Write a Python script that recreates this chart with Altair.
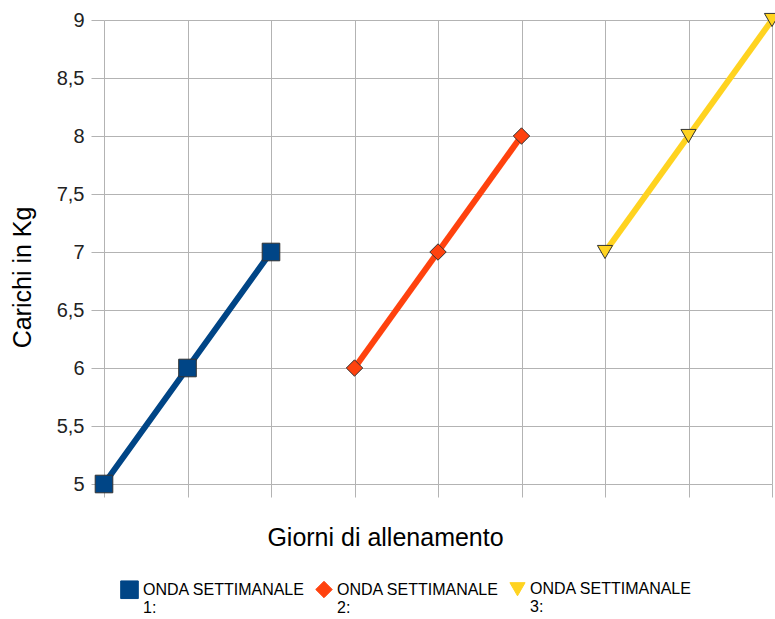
import altair as alt
import pandas as pd

series = ["ONDA SETTIMANALE 1:", "ONDA SETTIMANALE 2:", "ONDA SETTIMANALE 3:"]
days_1 = [0, 1, 2]
days_2 = [3, 4, 5]
days_3 = [6, 7, 8]
loads_1 = [5, 6, 7]
loads_2 = [6, 7, 8]
loads_3 = [7, 8, 9]
colors = ["#004586", "#ff420e", "#ffd320"]
shapes = ["square", "diamond", "triangle-down"]

rows = []
for s, d, v in zip(series, [days_1, days_2, days_3], [loads_1, loads_2, loads_3]):
    for x, y in zip(d, v):
        rows.append({"serie": s, "giorno": x, "carico": y})
df = pd.DataFrame(rows)

FONT = "Liberation Sans"

x_enc = alt.X("giorno:Q", scale=alt.Scale(domain=[0, 8], nice=False, zero=False),
              axis=alt.Axis(title="Giorni di allenamento", values=list(range(9)), labels=False,
                            tickSize=13, tickColor="#b3b3b3", domain=False, grid=True,
                            gridColor="#b3b3b3", titleFontSize=25, titleFontWeight="normal",
                            titleFont=FONT, titleColor="#000000",
                            titleX=281, titleY=53, titleBaseline="middle", titleAlign="center"))
y_enc = alt.Y("carico:Q", scale=alt.Scale(domain=[5, 9], nice=False, zero=False),
              axis=alt.Axis(title="Carichi in Kg", values=[5, 5.5, 6, 6.5, 7, 7.5, 8, 8.5, 9],
                            labelExpr="replace(format(datum.value, '~g'), '.', ',')",
                            tickSize=13, tickColor="#b3b3b3", domain=False, grid=True,
                            gridColor="#b3b3b3", labelFontSize=20, labelFont=FONT,
                            labelColor="#222222", labelPadding=7,
                            titleFontSize=25, titleFontWeight="normal", titleFont=FONT,
                            titleColor="#000000", titleX=-82, titleY=257, titleAngle=270,
                            titleBaseline="middle", titleAlign="center"))
legend = alt.Legend(title=None, orient="none", direction="horizontal",
                    legendX=16, legendY=560,
                    labelExpr="[slice(datum.label, 0, 16), slice(datum.label, 17)]",
                    labelFont=FONT, labelFontSize=16, labelColor="#000000",
                    symbolSize=80, symbolStrokeWidth=1, symbolType="square",
                    symbolStrokeColor="#333333",
                    columnPadding=8, labelLimit=300, labelOffset=4)
color_enc = alt.Color("serie:N", scale=alt.Scale(domain=series, range=colors), legend=legend)
shape_enc = alt.Shape("serie:N", scale=alt.Scale(domain=series, range=shapes), legend=None)

lines = alt.Chart(df).mark_line(strokeWidth=6).encode(
    x=x_enc, y=y_enc, color=color_enc, detail="serie:N")

points = alt.Chart(df).mark_point(filled=True, opacity=1, stroke="#333333", strokeWidth=1).encode(
    x=x_enc, y=y_enc, color=color_enc, shape=shape_enc,
    size=alt.Size("serie:N", scale=alt.Scale(domain=series, range=[310, 230, 290]), legend=None))

chart = alt.layer(lines, points).properties(
    width=668, height=464,
    autosize=alt.AutoSizeParams(type="none"),
    padding={"left": 104, "top": 20, "right": 3, "bottom": 135},
    background="white",
).configure_view(stroke=None)

chart.save("out.html", embed_options={"renderer": "svg", "actions": False})
